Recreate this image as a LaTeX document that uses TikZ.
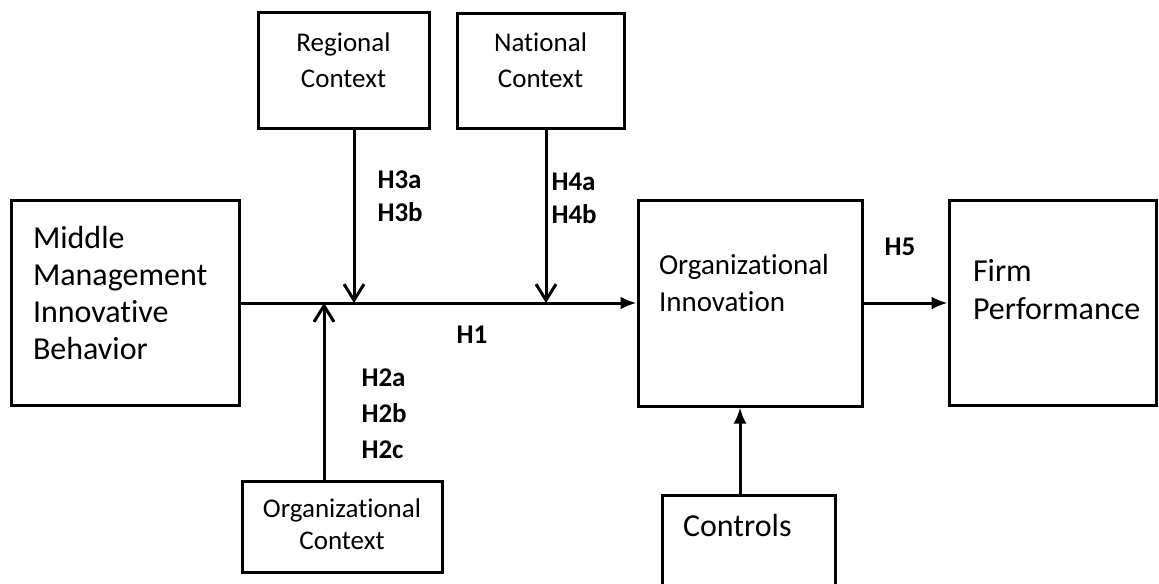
\documentclass[tikz,border=0pt]{standalone}
\usepackage{fontspec}
\setmainfont{Carlito}[Ligatures=NoCommon]
\usetikzlibrary{arrows.meta, positioning}

\begin{document}
\begin{tikzpicture}[
  x=0.5pt, y=-0.5pt,
  line width=1.5pt,
  mybox/.style={
    draw,
    rectangle,
    inner ysep=2pt
    },
  ctxbox/.style={
    mybox,
    align=center,
    inner xsep=5pt,
    font=\fontsize{13.5}{18}\selectfont
    },
  mainbox/.style={
    mybox,
    align=left,
    inner xsep=#1,
    font=\fontsize{16}{18.5}\selectfont
    },
  hlabel/.style={
    align=left,
    inner sep=0pt,
    font=\fontsize{13.5}{16.5}\selectfont\bfseries
    },
  fillarrow/.style={-{Latex[length=8pt,width=6.5pt]}},
  openarrow/.style={-{Straight Barb[length=8pt,width=10pt]}}
]
\useasboundingbox (0,0) rectangle (1159,583);

\node[ctxbox, text width=75.5pt, minimum height=57.5pt, text depth=28pt]
  (reg) at (343.5,70.5) {Regional\\Context};
\node[ctxbox, text width=73.5pt, minimum height=57pt, text depth=28.5pt]
  (nat) at (540.5,71) {National\\Context};
\node[mainbox=11pt, text width=92pt, minimum height=102.5pt, text depth=65.7pt]
  (mmib) at (125,303) {Middle\\Management\\Innovative\\Behavior};
\node[mainbox=10.5pt, font=\fontsize{14.5}{18.5}\selectfont, text width=91pt,
  minimum height=103pt, text depth=38.2pt]
  (oi) at (750,303) {Organizational\\Innovation};
\node[mainbox=12pt, font=\fontsize{16}{19}\selectfont, text width=79.5pt,
  minimum height=102.5pt, text depth=32.7pt]
  (fp) at (1052.5,303) {Firm\\Performance};
\node[ctxbox, font=\fontsize{13.5}{16}\selectfont, text width=90pt,
  minimum height=45.5pt, text depth=18pt]
  (oc) at (342,526.5) {Organizational\\Context};
\node[mainbox=10.5pt, text width=65.5pt, minimum height=65pt, text depth=34.2pt]
  (ctl) at (748.5,560) {Controls};

\coordinate (j2) at (324,303);
\coordinate (j3) at (354,303);
\coordinate (j4) at (546,303);
\coordinate (cin) at ([xshift=-5pt]oi.south);

\draw[fillarrow] (mmib.east) -- (oi.west);
\draw[fillarrow] (oi.east) -- (fp.west);
\draw[openarrow] (reg.south -| j3) -- (j3);
\draw[openarrow] (nat.south -| j4) -- (j4);
\draw[openarrow] (oc.north -| j2) -- (j2);
\draw[fillarrow] (ctl.north -| cin) -- (cin);

\node[hlabel, anchor=west] (h3) at (376,196.5) {H3a\\H3b};
\node[hlabel, anchor=west] (h4) at (550,198.5) {H4a\\H4b};
\node[hlabel] (h1) at (472,335) {H1};
\node[hlabel, anchor=west, font=\fontsize{13.5}{18}\selectfont\bfseries]
  (h2) at (360,414) {H2a\\H2b\\H2c};
\node[hlabel, anchor=west] (h5) at (883,247) {H5};

\end{tikzpicture}
\end{document}
